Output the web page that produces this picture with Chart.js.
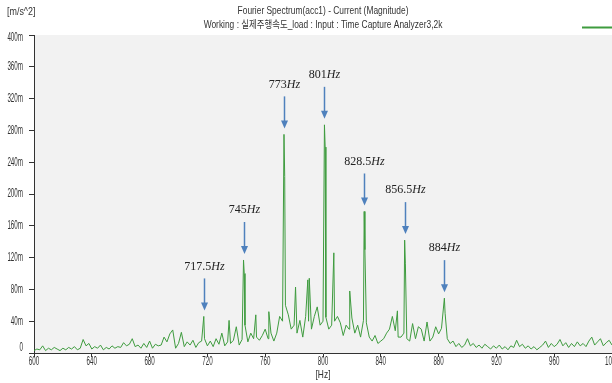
<!DOCTYPE html>
<html>
<head>
<meta charset="utf-8">
<script src="https://cdn.jsdelivr.net/npm/chart.js@4.4.1/dist/chart.umd.min.js"></script>
<style>
  body { margin: 0; background: #fff; overflow: hidden; }
  #wrap { width: 646px; height: 383px; }
</style>
</head>
<body>
<div id="wrap"><canvas id="spectrum"></canvas></div>
<script>
// spectrum floor, sampled every 2 Hz from 600 Hz (values in m/s^2 * 1000)
const startFreq = 600;
const freqStep = 2;
const floorLevels = [
  3, 5, 4, 9, 3, 6, 4, 7, 5, 3,
  6, 4, 7, 5, 8, 4, 6, 17, 9, 12,
  5, 8, 6, 10, 4, 7, 5, 9, 6, 8,
  7, 13, 9, 11, 18, 8, 10, 6, 12, 7,
  15, 6, 11, 9, 10, 20, 14, 24, 29, 6,
  12, 26, 8, 14, 10, 16, 7, 13, 15, 18,
  9, 15, 8, 18, 11, 25, 9, 14, 12, 16,
  33, 10, 17, 35, 14, 25, 18, 20, 16, 22,
  30, 18, 25, 15, 25, 46, 40, 60, 48, 30,
  35, 25, 41, 20, 46, 40, 30, 46, 58, 35,
  40, 45, 30, 35, 40, 46, 38, 22, 35, 30,
  44, 25, 35, 20, 41, 38, 20, 15, 22, 12,
  15, 18, 25, 30, 46, 28, 20, 20, 25, 18,
  15, 37, 18, 33, 30, 15, 39, 15, 20, 33,
  24, 31, 35, 18, 12, 15, 8, 12, 7, 10,
  18, 9, 12, 7, 10, 6, 11, 8, 5, 9,
  6, 10, 5, 8, 4, 9, 7, 16, 8, 11,
  6, 9, 5, 8, 4, 7, 10, 15, 7, 12,
  8, 11, 17, 9, 13, 7, 12, 8, 14, 9,
  12, 8, 15, 20, 10, 14, 18, 9, 13, 16,
  10
];

// labelled harmonics
const peakFreqs = [717.5, 745, 773, 801, 828.5, 856.5, 884];
const peakValues = [46, 117, 275, 287, 178, 142, 69];

// smaller spikes and shoulders between the harmonics
const sideFreqs = [735, 745.5, 753.5, 762.5, 773.5, 781, 789.5, 790.5, 801.5, 807.5, 818.5, 829, 851.5, 857, 884.5];
const sideValues = [41, 100, 48, 52, 222, 83, 92, 94, 259, 126, 78, 130, 53, 113, 50];

const xMin = 600, xMax = 1000, xStep = 40;
const yMin = 0, yMax = 400, yStep = 40;

const titleLines = [
  'Fourier Spectrum(acc1) - Current (Magnitude)',
  'Working : 실제주행속도_load : Input : Time Capture Analyzer3,2k'
];
const unitLabel = '[m/s^2]';
const freqLabel = '[Hz]';
const seriesName = 'acc1';

const lineColor = '#3f9c3f';
const arrowColor = '#4f81bd';
const textColor = '#333';
const sansFont = "'Liberation Sans', Arial, 'Noto Sans CJK KR', sans-serif";
const serifFont = "'Liberation Serif', 'DejaVu Serif', serif";
// the viewer's labels are set in a very condensed face
const tickSqueeze = 0.52;
const titleSqueeze = 0.8;

// merge the floor with the spikes into one sorted series
function buildSeries() {
  const pts = new Map();
  floorLevels.forEach((v, i) => pts.set(startFreq + i * freqStep, v));
  sideFreqs.forEach((f, i) => pts.set(f, sideValues[i]));
  peakFreqs.forEach((f, i) => pts.set(f, peakValues[i]));
  return [...pts.entries()].sort((a, b) => a[0] - b[0]).map(([x, y]) => ({ x, y }));
}

function narrowText(ctx, text, x, y, squeeze, align) {
  ctx.save();
  ctx.translate(x, y);
  ctx.scale(squeeze, 1);
  ctx.textAlign = align;
  ctx.fillText(text, 0, 0);
  ctx.restore();
}

const plotBackground = {
  id: 'plotBackground',
  beforeDraw(chart) {
    const { ctx, chartArea: a } = chart;
    ctx.save();
    ctx.fillStyle = '#f2f2f2';
    ctx.fillRect(a.left, a.top, a.right - a.left, a.bottom - a.top);
    ctx.restore();
  }
};

// titles, tick labels and the legend sample
const axisText = {
  id: 'axisText',
  afterDraw(chart) {
    const { ctx, chartArea: a, scales: { x, y } } = chart;
    const mid = (a.left + a.right) / 2;
    ctx.save();
    ctx.fillStyle = textColor;
    ctx.textBaseline = 'middle';

    ctx.font = '12px ' + sansFont;
    x.ticks.forEach(t => {
      narrowText(ctx, String(t.value), x.getPixelForValue(t.value), a.bottom + 9, tickSqueeze, 'center');
    });
    y.ticks.forEach(t => {
      const py = Math.min(Math.max(y.getPixelForValue(t.value), a.top + 3), a.bottom - 5);
      narrowText(ctx, t.label, a.left - 11, py, tickSqueeze, 'right');
    });

    ctx.font = '10.5px ' + sansFont;
    narrowText(ctx, freqLabel, mid, 375, titleSqueeze, 'center');
    narrowText(ctx, titleLines[0], mid, 11, titleSqueeze, 'center');
    narrowText(ctx, titleLines[1], mid, 25, titleSqueeze, 'center');
    narrowText(ctx, unitLabel, 7, 12, 0.85, 'left');

    // legend sample, runs off the right edge
    ctx.strokeStyle = lineColor;
    ctx.lineWidth = 2;
    ctx.beginPath();
    ctx.moveTo(582, 27.5);
    ctx.lineTo(620, 27.5);
    ctx.stroke();
    narrowText(ctx, seriesName, 624, 27, titleSqueeze, 'left');
    ctx.restore();
  }
};

const peakArrows = {
  id: 'peakArrows',
  afterDatasetsDraw(chart) {
    const { ctx, scales: { x, y } } = chart;
    ctx.save();
    peakFreqs.forEach((f, i) => {
      const px = Math.round(x.getPixelForValue(f)) + 0.5;
      const tip = y.getPixelForValue(peakValues[i]) - 6;
      const tail = tip - 32;
      ctx.strokeStyle = arrowColor;
      ctx.fillStyle = arrowColor;
      ctx.lineWidth = 1.5;
      ctx.beginPath();
      ctx.moveTo(px, tail);
      ctx.lineTo(px, tip - 6);
      ctx.stroke();
      ctx.beginPath();
      ctx.moveTo(px - 3.5, tip - 8);
      ctx.lineTo(px + 3.5, tip - 8);
      ctx.lineTo(px, tip);
      ctx.closePath();
      ctx.fill();

      const num = String(f);
      ctx.font = '12px ' + serifFont;
      const w1 = ctx.measureText(num).width;
      ctx.font = 'italic 12px ' + serifFont;
      const w2 = ctx.measureText('Hz').width;
      const lx = px - (w1 + w2) / 2;
      const ly = tail - 12;
      ctx.fillStyle = '#222';
      ctx.textBaseline = 'middle';
      ctx.textAlign = 'left';
      ctx.font = '12px ' + serifFont;
      ctx.fillText(num, lx, ly);
      ctx.font = 'italic 12px ' + serifFont;
      ctx.fillText('Hz', lx + w1, ly);
    });
    ctx.restore();
  }
};

new Chart(document.getElementById('spectrum'), {
  type: 'line',
  data: {
    datasets: [{
      label: seriesName,
      data: buildSeries(),
      borderColor: lineColor,
      borderWidth: 1,
      pointRadius: 0,
      tension: 0,
      fill: false
    }]
  },
  options: {
    responsive: true,
    maintainAspectRatio: false,
    animation: false,
    layout: { padding: { left: 0, right: 34, top: 35, bottom: 0 } },
    plugins: {
      legend: { display: false },
      tooltip: { enabled: false },
      title: { display: false }
    },
    scales: {
      x: {
        type: 'linear',
        min: xMin,
        max: xMax,
        afterFit(scale) { scale.height = 30; },
        border: { color: textColor },
        grid: { drawOnChartArea: false, tickLength: 4, color: textColor },
        ticks: { stepSize: xStep, autoSkip: false, maxRotation: 0, display: false }
      },
      y: {
        min: yMin,
        max: yMax,
        afterFit(scale) { scale.width = 34; },
        border: { color: textColor },
        grid: { drawOnChartArea: false, tickLength: 5, color: textColor },
        ticks: {
          stepSize: yStep,
          display: false,
          callback: v => v === 0 ? '0' : v + 'm'
        }
      }
    }
  },
  plugins: [plotBackground, peakArrows, axisText]
});
</script>
</body>
</html>
